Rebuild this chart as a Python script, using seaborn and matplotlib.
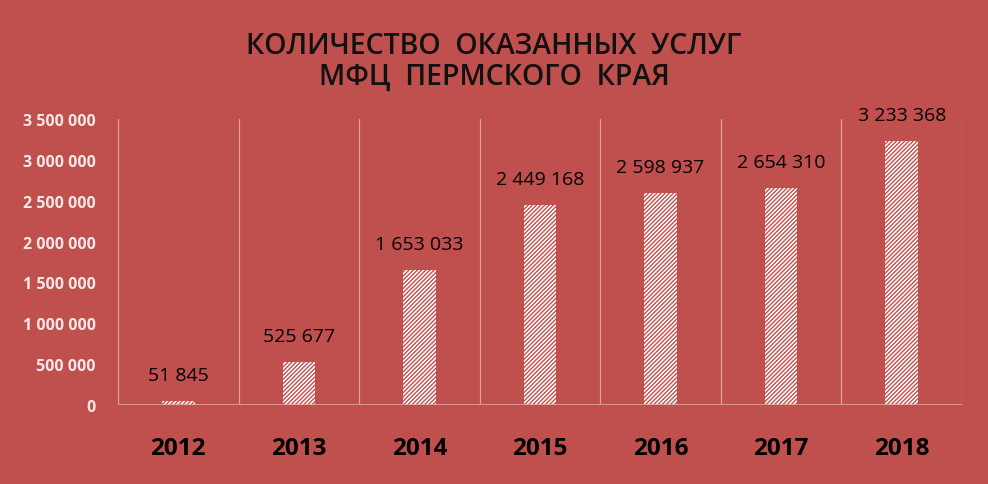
#!/usr/bin/env python3
import matplotlib
matplotlib.use("Agg")
import matplotlib.pyplot as plt
import pandas as pd
import seaborn as sns

# Данные
years = ["2012", "2013", "2014", "2015", "2016", "2017", "2018"]
services = [51845, 525677, 1653033, 2449168, 2598937, 2654310, 3233368]
title_lines = ["КОЛИЧЕСТВО  ОКАЗАННЫХ  УСЛУГ", "МФЦ  ПЕРМСКОГО  КРАЯ"]

bg = "#C0504D"
grid_col = "#E3A09E"

def fmt(v):
    return f"{v:,}".replace(",", " ")

sns.set_theme(style="white")
plt.rcParams["font.family"] = ["Open Sans", "DejaVu Sans"]
plt.rcParams["hatch.linewidth"] = 1.0

df = pd.DataFrame({"year": years, "count": services})

fig = plt.figure(figsize=(9.88, 4.85), dpi=100, facecolor=bg)
ax = fig.add_axes([0.1194, 0.1629, 0.8543, 0.5897])
ax.set_facecolor(bg)

sns.barplot(data=df, x="year", y="count", color="white", width=0.27,
            saturation=1, ax=ax)
for p in ax.patches:
    p.set_facecolor("white")
    p.set_edgecolor(bg)
    p.set_hatch("////////")
    p.set_linewidth(0)

ax.set_xlim(-0.5, len(years) - 0.5)
ax.set_ylim(0, 3500000)
ax.set_yticks(range(0, 3500001, 500000))
ax.set_yticklabels([fmt(v) for v in range(0, 3500001, 500000)],
                   color="#F7E8E8", fontweight="bold", fontsize=11.5)
ax.tick_params(axis="y", length=0, pad=16)
ax.tick_params(axis="x", length=0, pad=22)
for lab in ax.get_xticklabels():
    lab.set_fontweight("bold")
    lab.set_fontsize(17.5)
    lab.set_color("black")

# вертикальные линии между категориями
for i in range(len(years) + 1):
    ax.axvline(i - 0.5, color=grid_col, lw=0.9, zorder=0)
ax.axhline(0, color=grid_col, lw=1.2, zorder=3)

for s in ax.spines.values():
    s.set_visible(False)

for i, v in enumerate(services):
    ax.annotate(fmt(v), (i, v), xytext=(0, 12), textcoords="offset points",
                ha="center", va="bottom", fontsize=14, fontweight="medium",
                color="black")

ax.set_xlabel("")
ax.set_ylabel("")

fig.text(0.5, 0.905, title_lines[0], ha="center", va="center",
         fontsize=20.5, fontweight="semibold", color="#111111")
fig.text(0.5, 0.84, title_lines[1], ha="center", va="center",
         fontsize=20.5, fontweight="semibold", color="#111111")

fig.savefig("out.png", dpi=100, facecolor=bg)
